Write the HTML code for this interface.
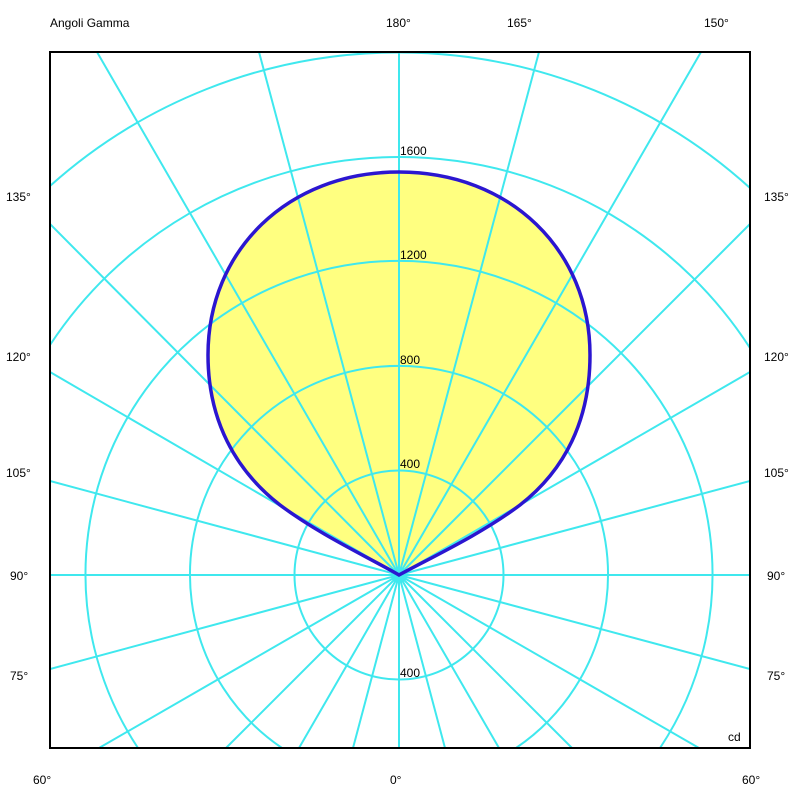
<!DOCTYPE html>
<html><head><style>html,body{margin:0;padding:0;background:#fff;width:800px;height:800px;overflow:hidden}svg{display:block}text{font-family:"Liberation Sans",sans-serif;font-size:12px;fill:#000}</style></head><body>
<svg width="800" height="800" viewBox="0 0 800 800">
<defs><clipPath id="c"><rect x="50" y="52" width="700" height="696"/></clipPath></defs>
<path d="M399,575 C430,558 480,535 520,505 C565,470 590,420 590,355 C590,250 510,172 399,172 C288,172 208,250 208,355 C208,420 235,470 280,505 C320,535 370,558 399,575 Z" fill="#ffff80"/>
<g clip-path="url(#c)" stroke="#3fe8ee" stroke-width="2" fill="none">
<circle cx="399" cy="575" r="104.5"/>
<path d="M282,748 A209,209 0 1 1 516,748"/>
<path d="M138,748 A313.5,313.5 0 1 1 660,748"/>
<path d="M50,345 A418,418 0 0 1 750,348"/>
<path d="M50,186 A522.5,522.5 0 0 1 750,188"/>
<path d="M399,575 L399,52 M399,575 L539,52 M399,575 L701,52 M399,575 L750,224 M399,575 L750,372 M399,575 L750,481 M399,575 L750,575 M399,575 L750,669 M399,575 L699,748 M399,575 L572,748 M399,575 L499,748 M399,575 L445,748 M399,575 L399,748
M399,575 L259,52 M399,575 L97,52 M399,575 L50,224 M399,575 L50,372 M399,575 L50,481 M399,575 L50,575 M399,575 L50,669 M399,575 L99,748 M399,575 L226,748 M399,575 L299,748 M399,575 L353,748"/>
</g>
<path d="M399,575 C430,558 480,535 520,505 C565,470 590,420 590,355 C590,250 510,172 399,172 C288,172 208,250 208,355 C208,420 235,470 280,505 C320,535 370,558 399,575 Z" fill="none" stroke="#2b16d0" stroke-width="3.5"/>
<rect x="50" y="52" width="700" height="696" fill="none" stroke="#000" stroke-width="2"/>
<text x="400" y="155">1600</text><text x="400" y="259">1200</text><text x="400" y="364">800</text><text x="400" y="468">400</text><text x="400" y="677">400</text>
<text x="728" y="741" font-size="11">cd</text>
<text x="50" y="27">Angoli Gamma</text>
<text x="386" y="27">180°</text><text x="507" y="27">165°</text><text x="704" y="27">150°</text>
<text x="6" y="201">135°</text><text x="764" y="201">135°</text>
<text x="6" y="361">120°</text><text x="764" y="361">120°</text>
<text x="6" y="477">105°</text><text x="764" y="477">105°</text>
<text x="10" y="580">90°</text><text x="767" y="580">90°</text>
<text x="10" y="680">75°</text><text x="767" y="680">75°</text>
<text x="33" y="784">60°</text><text x="390" y="784">0°</text><text x="742" y="784">60°</text>
</svg>
</body></html>
